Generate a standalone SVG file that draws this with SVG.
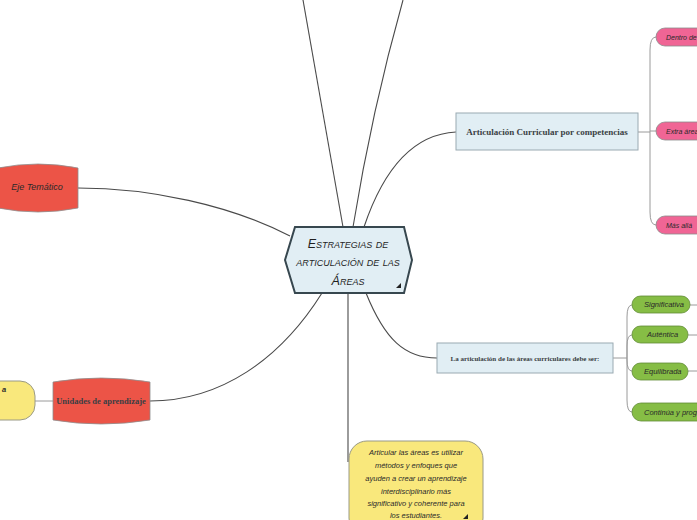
<svg xmlns="http://www.w3.org/2000/svg" width="697" height="520" viewBox="0 0 697 520">
<defs>
<style>
.c{fill:none;stroke:#4a4a4a;stroke-width:1.1}
.cs{fill:none;stroke:#9a9a9a;stroke-width:1}
.blue{fill:#e1eef4;stroke:#9aaab2;stroke-width:1}
.red{fill:#ec5447;stroke:#8e8e8e;stroke-width:0.8}
.yel{fill:#f9e87c;stroke:#9a9a86;stroke-width:1}
.pink{fill:#f06595;stroke:#8a8a8a;stroke-width:0.8}
.green{fill:#86bd45;stroke:#5f8a35;stroke-width:0.8}
.hand{font-family:"Liberation Sans",Arial,sans-serif;font-style:italic;fill:#2a2a2a}
.serif{font-family:"Liberation Serif","Times New Roman",serif;font-weight:bold;fill:#3a3f44}
</style>
</defs>
<rect width="697" height="520" fill="#ffffff"/>
<g id="connectors">
<path class="c" d="M343,227 Q322,110 303,0"/>
<path class="c" d="M353,227 Q372,110 403,0"/>
<path class="c" d="M364,227 Q395,135 456,132"/>
<path class="c" d="M290,236 C230,205 150,188 78,188"/>
<path class="c" d="M322,293 C280,360 220,401 150,401"/>
<path class="c" d="M348,293 V462"/>
<path class="c" d="M366,293 C385,340 405,358 437,358"/>
<path class="cs" d="M53,401 H35"/>
<path class="cs" d="M638,132 H650 M650,132 V50 Q650,37 656,37 M650,132 V212 Q650,225 656,225 M650,131 H656"/>
<path class="cs" d="M613,358 H627 M627,358 V317 Q627,305 632,305 M627,358 V346 Q627,335 632,335 M627,358 V360 Q627,371 632,371 M627,358 V400 Q627,412 632,412"/>
<path class="cs" d="M690,305 H697 M688,335 H697 M688,371 H697"/>
</g>
<g id="center">
<polygon points="295,227 404,227 412,260 404,293 295,293 285,260" fill="#e1eef4" stroke="#37474f" stroke-width="2"/>
<g font-family="'Liberation Sans',Arial,sans-serif" font-style="italic" font-variant="small-caps" font-size="12.5" fill="#1f1f1f" text-anchor="middle">
<text x="348" y="248">Estrategias de</text>
<text x="348" y="266">articulación de las</text>
<text x="348" y="285">Áreas</text>
</g>
<polygon points="396,288 401,283 401,288" fill="#222"/>
</g>
<g id="n-curricular">
<rect class="blue" x="456" y="113" width="182" height="37"/>
<text class="serif" x="547" y="135" font-size="9" text-anchor="middle">Articulación Curricular por competencias</text>
</g>
<g id="n-dentro">
<rect class="pink" x="656" y="28" width="60" height="18" rx="9"/>
<text class="hand" x="666" y="40" font-size="7">Dentro de</text>
</g>
<g id="n-extra">
<rect class="pink" x="656" y="122" width="60" height="18" rx="9"/>
<text class="hand" x="666" y="134" font-size="7">Extra área</text>
</g>
<g id="n-mas">
<rect class="pink" x="656" y="216" width="60" height="18" rx="9"/>
<text class="hand" x="666" y="228" font-size="7">Más allá</text>
</g>
<g id="n-eje">
<path class="red" d="M-2,168 Q38,160 78,168 V208 Q38,216 -2,208 Z"/>
<text class="hand" x="37" y="190" font-size="9" text-anchor="middle">Eje Temático</text>
</g>
<g id="n-unidades">
<path class="red" d="M53,382 Q101,374 150,382 V420 Q101,428 53,420 Z"/>
<text class="serif" x="101" y="404" font-size="8.5" text-anchor="middle" fill="#3a2a2a">Unidades de aprendizaje</text>
</g>
<g id="n-left-yellow">
<rect class="yel" x="-30" y="381" width="65" height="39" rx="15"/>
<text class="hand" x="2" y="392" font-size="7.5" font-weight="bold">a</text>
</g>
<g id="n-articular">
<rect class="yel" x="349" y="441" width="134" height="95" rx="18"/>
<g class="hand" font-size="7.5" text-anchor="middle">
<text x="416" y="455">Articular las áreas es utilizar</text>
<text x="416" y="468">métodos  y enfoques que</text>
<text x="416" y="481">ayuden a crear un aprendizaje</text>
<text x="416" y="494">interdisciplinario más</text>
<text x="416" y="506">significativo y coherente para</text>
<text x="416" y="518">los estudiantes.</text>
</g>
<polygon points="463,519 468,514 468,519" fill="#222"/>
</g>
<g id="n-debe">
<rect class="blue" x="437" y="343" width="176" height="30"/>
<text class="serif" x="525" y="361" font-size="7" text-anchor="middle">La articulación de las áreas curriculares debe ser:</text>
</g>
<g id="n-significativa">
<rect class="green" x="632" y="296" width="58" height="17" rx="8.5"/>
<text class="hand" x="644" y="307" font-size="7.5">Significativa</text>
</g>
<g id="n-autentica">
<rect class="green" x="632" y="326" width="56" height="17" rx="8.5"/>
<text class="hand" x="647" y="337" font-size="7.5">Auténtica</text>
</g>
<g id="n-equilibrada">
<rect class="green" x="632" y="363" width="56" height="17" rx="8.5"/>
<text class="hand" x="644" y="374" font-size="7.5">Equilibrada</text>
</g>
<g id="n-continua">
<rect class="green" x="632" y="403" width="90" height="18" rx="9"/>
<text class="hand" x="644" y="415" font-size="7.5">Continúa y progre</text>
</g>
</svg>
